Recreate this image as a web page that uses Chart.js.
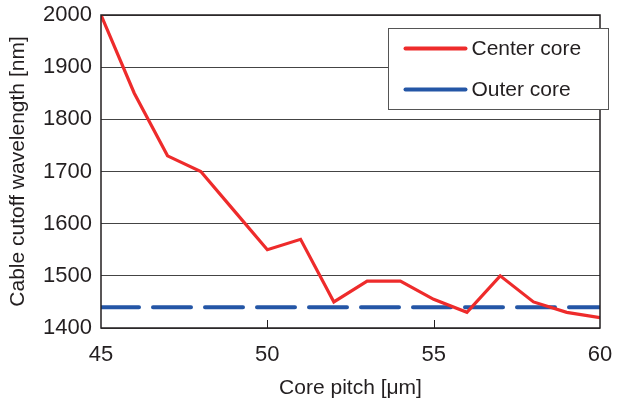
<!DOCTYPE html>
<html>
<head>
<meta charset="utf-8">
<script src="https://cdn.jsdelivr.net/npm/chart.js@4"></script>
<style>
  html, body { margin: 0; padding: 0; background: #fff; }
  #wrap { width: 630px; height: 405px; }
</style>
</head>
<body>
<div id="wrap"><canvas id="c" width="630" height="405"></canvas></div>
<script>
// core pitch [um] and cutoff wavelengths [nm]
const pitch = [45, 46, 47, 48, 49, 50, 51, 52, 53, 54, 55, 56, 57, 58, 59, 60];
const centerCore = [2000, 1850, 1730, 1700, 1625, 1550, 1570, 1450, 1490, 1490, 1455, 1430, 1500, 1450, 1430, 1420];
const outerCore = [1440, 1440, 1440, 1440, 1440, 1440, 1440, 1440, 1440, 1440, 1440, 1440, 1440, 1440, 1440, 1440];
const seriesNames = ['Center core', 'Outer core'];
const xTitle = 'Core pitch [μm]';
const yTitle = 'Cable cutoff wavelength [nm]';

const TXT = '#231f20';
const FONT = '"Liberation Sans", Arial, sans-serif';

// frame + inward x ticks + boxed legend inside the plot
const framePlugin = {
  id: 'frame',
  afterDatasetsDraw(chart) {
    const { ctx, chartArea: a, scales: { x } } = chart;
    ctx.save();
    ctx.strokeStyle = '#231f20';
    ctx.lineWidth = 1.5;
    ctx.strokeRect(a.left, a.top, a.right - a.left, a.bottom - a.top);
    ctx.lineWidth = 1;
    [50, 55].forEach(v => {
      const px = Math.round(x.getPixelForValue(v)) + 0.5;
      ctx.beginPath(); ctx.moveTo(px, a.bottom); ctx.lineTo(px, a.bottom - 8); ctx.stroke();
    });
    // legend
    const bx = 388.5, by = 28.5, bw = 220, bh = 81;
    ctx.fillStyle = '#fff';
    ctx.fillRect(bx, by, bw, bh);
    ctx.strokeStyle = '#555';
    ctx.strokeRect(bx, by, bw, bh);
    chart.data.datasets.forEach((ds, i) => {
      const ly = by + 20 + i * 41;
      ctx.strokeStyle = ds.borderColor;
      ctx.lineWidth = 4;
      ctx.lineCap = 'round';
      ctx.beginPath(); ctx.moveTo(bx + 17, ly); ctx.lineTo(bx + 77, ly); ctx.stroke();
      ctx.fillStyle = TXT;
      ctx.font = '21px ' + FONT;
      ctx.textBaseline = 'middle';
      ctx.fillText(ds.label, bx + 83, ly + 1);
    });
    ctx.restore();
  }
};

new Chart(document.getElementById('c'), {
  type: 'line',
  data: {
    labels: pitch,
    datasets: [
      {
        label: seriesNames[0],
        data: pitch.map((p, i) => ({ x: p, y: centerCore[i] })),
        borderColor: '#ee2b2b', borderWidth: 3.2, pointRadius: 0,
        tension: 0, borderJoinStyle: 'miter'
      },
      {
        label: seriesNames[1],
        data: pitch.map((p, i) => ({ x: p, y: outerCore[i] })),
        borderColor: '#2456a6', borderWidth: 4, pointRadius: 0,
        borderDash: [38, 14], borderCapStyle: 'round'
      }
    ]
  },
  options: {
    responsive: false, animation: false,
    layout: { padding: { top: 15, right: 30, left: 0, bottom: 0 } },
    plugins: { legend: { display: false }, tooltip: { enabled: false } },
    scales: {
      x: {
        type: 'linear', min: 45, max: 60,
        ticks: { stepSize: 5, color: TXT, font: { family: FONT, size: 22 }, padding: 6 },
        grid: { display: false },
        border: { display: false },
        title: { display: true, text: xTitle, color: TXT, font: { family: FONT, size: 21 }, padding: { top: 2, bottom: 4 } },
        afterFit: s => { s.height = 77; s.paddingLeft = 0; s.paddingRight = 0; }
      },
      y: {
        min: 1400, max: 2000,
        ticks: { stepSize: 100, color: TXT, font: { family: FONT, size: 22 }, padding: 9, callback: v => String(v) },
        grid: { color: '#444', lineWidth: 1, drawTicks: false },
        border: { display: false },
        title: { display: true, text: yTitle, color: TXT, font: { family: FONT, size: 21 }, padding: { top: 6, bottom: 6 } },
        afterFit: s => { s.width = 101; s.paddingTop = 0; s.paddingBottom = 0; }
      }
    }
  },
  plugins: [framePlugin]
});
</script>
</body>
</html>
